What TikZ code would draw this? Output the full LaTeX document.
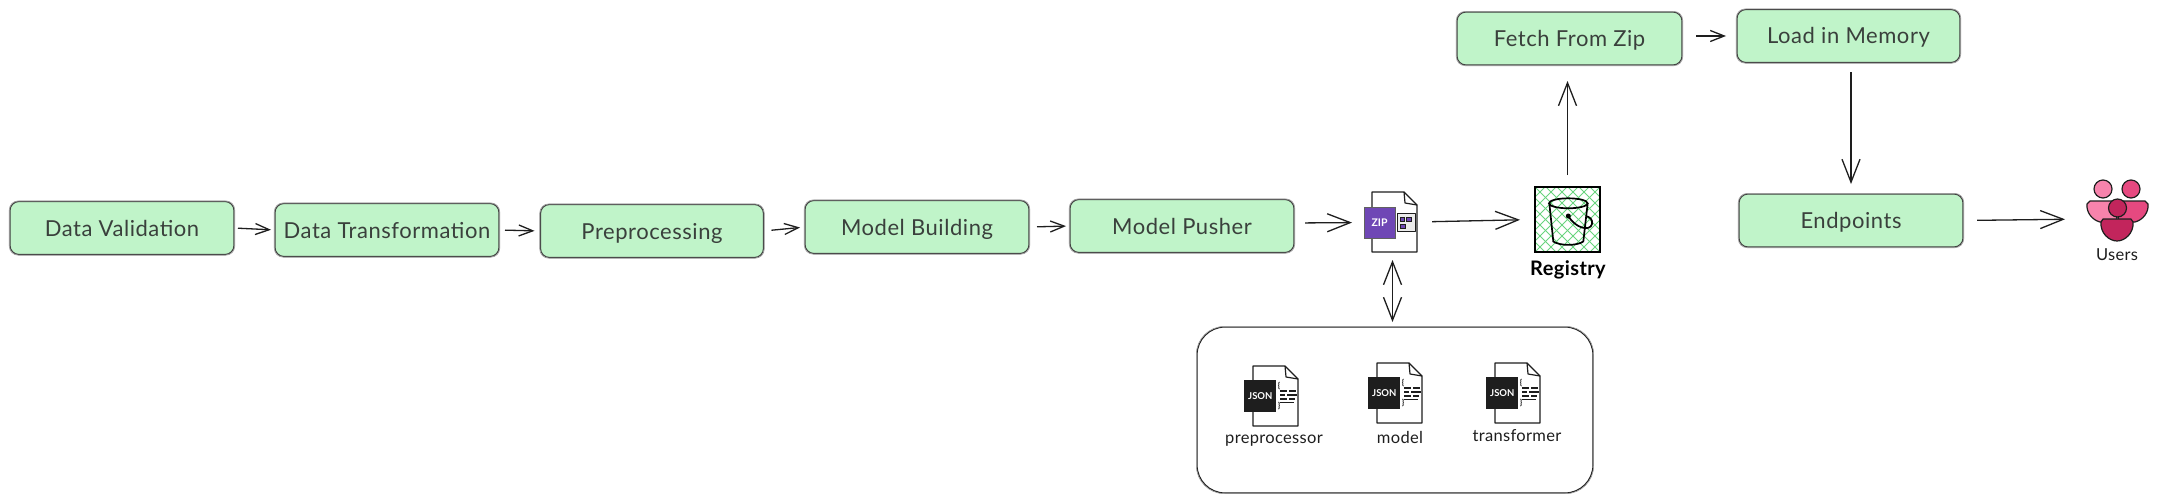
\documentclass[tikz,border=0pt]{standalone}
\usepackage{fontspec}
\setmainfont{Lato}
\usetikzlibrary{arrows.meta,positioning}
\definecolor{boxgreen}{HTML}{C0F4C9}
\definecolor{ink}{HTML}{1E1E1E}
\definecolor{soft}{HTML}{3A403C}
\definecolor{zippurple}{HTML}{6F47B5}
\definecolor{hatch}{HTML}{69D47E}
\definecolor{pinkA}{HTML}{F783AC}
\definecolor{pinkB}{HTML}{E64980}
\definecolor{pinkC}{HTML}{C2255C}
\tikzset{
  x=1pt,y=-1pt,
  stepbox/.style={draw=ink!85,fill=boxgreen,line width=1.1pt,rounded corners=9pt,minimum width=224pt,minimum height=53pt,inner sep=0pt,outer sep=0pt,text=soft,text height=16pt,text depth=0pt,font=\fontsize{22}{24}\selectfont\addfontfeature{LetterSpace=2.5}},
  sketchline/.style={draw=ink!45,line width=.7pt,rounded corners=9pt},
  shortarrow/.style={draw=ink,line width=1.3pt,-{Straight Barb[length=14pt,width=11pt]}},
  longarrow/.style={draw=ink,line width=1.3pt,-{Straight Barb[length=23pt,width=18pt]}},
  bothlong/.style={draw=ink,line width=1.3pt,{Straight Barb[length=23pt,width=18pt]}-{Straight Barb[length=23pt,width=18pt]}},
  iconline/.style={draw=ink,line width=1.2pt,line join=round},
  ghost/.style={inner sep=0pt,outer sep=0pt},
  smalllabel/.style={inner sep=0pt,text=ink,font=\fontsize{16.5}{18}\selectfont\addfontfeature{LetterSpace=2}},
}
\newcommand{\stepnode}[6]{%
  \node[stepbox,minimum width=#4pt,minimum height=#5pt] (#1) at (#2,#3) {#6};
  \draw[sketchline] ([xshift=-.7pt,yshift=.6pt]#1.north west) rectangle ([xshift=.7pt,yshift=-.7pt]#1.south east);
}
\newcommand{\jsonicon}[3]{%
  \begin{scope}[shift={(#2,#3)}]
    \draw[iconline,fill=white] (0,0) -- (32,0) -- (45,13) -- (45,60) -- (0,60) -- cycle;
    \draw[iconline] (32,0) -- (33,11) -- (45,13);
    \node[ghost,fill=ink,minimum width=32pt,minimum height=32pt,text=white,font=\fontsize{9.5}{10}\selectfont\bfseries] (#1) at (7.3,30) {JSON};
    \node[ghost,text=ink,font=\fontsize{8}{9}\selectfont\bfseries] (#1l) at (26,20) {\{};
    \node[ghost,text=ink,font=\fontsize{8}{9}\selectfont\bfseries] (#1r) at (26,40) {\}};
    \draw[ink,line width=1.8pt] (27,25) -- (34,25) (36,25) -- (43,25) (27,29) -- (32,29) (34,29) -- (44,29) (27,33) -- (34,33) (36,33) -- (42,33) (27,36.5) -- (41,36.5);
  \end{scope}
}
\begin{document}
\begin{tikzpicture}
\useasboundingbox (0,0) rectangle (2157,503);
\fill[white] (0,0) rectangle (2157,503);

% process boxes
\stepnode{dv}{122}{228}{224}{53}{Data Validation}
\stepnode{dt}{387}{230}{224}{53}{Data Transformation}
\stepnode{pp}{652}{231}{223}{53}{Preprocessing}
\stepnode{mb}{917}{227}{224}{53}{Model Building}
\stepnode{mp}{1182}{226}{224}{53}{Model Pusher}
\stepnode{fz}{1569.5}{38.5}{225}{53}{Fetch From Zip}
\stepnode{lm}{1848.5}{36}{223}{53}{Load in Memory}
\stepnode{ep}{1851}{220.5}{224}{53}{Endpoints}

% zip file icon
\node[ghost,minimum width=45pt,minimum height=60pt] (zipdoc) at (1394.5,222) {};
\draw[iconline,fill=white] (1372,192) -- (1404,192) -- (1417,205) -- (1417,252) -- (1372,252) -- cycle;
\draw[iconline] (1404,192) -- (1405,203) -- (1417,205);
\node[ghost,draw=ink!70,line width=1pt,fill=zippurple,minimum width=31pt,minimum height=31pt,text=white,font=\fontsize{10.5}{12}\selectfont\bfseries] (zipbox) at (1379.5,222.5) {ZIP};
\draw[iconline,line width=1pt,fill=white!92!black] (1397,213) rectangle (1415,231);
\fill[zippurple,draw=ink,line width=.5pt] (1400,217) rectangle (1404,221.5) (1406.5,217) rectangle (1411.5,221.5) (1400,224.5) rectangle (1405,228.5);

% registry icon
\node[ghost,draw=black,line width=2.4pt,fill=white,minimum size=65pt] (reg) at (1567.5,219.5) {};
\begin{scope}
  \clip (1535,187) rectangle (1600,252);
  \foreach \k in {-66,-55,...,66} {
    \draw[hatch,line width=.9pt] (\k+1535,187) -- (\k+1600,252);
    \draw[hatch,line width=.9pt] (\k+1600,187) -- (\k+1535,252);
  }
\end{scope}
\draw[black,line width=2.4pt] (1535,187) rectangle (1600,252);
\draw[black,line width=1.7pt,fill=none] (1549.3,203) -- (1553.3,241.5) .. controls (1560,246) and (1577,246) .. (1583.3,241.5) -- (1587.7,203);
\draw[black,line width=1.7pt] (1568.3,203.3) ellipse [x radius=19.3,y radius=5];
\fill[black] (1568.3,216) circle [radius=2.5];
\draw[black,line width=1.7pt] (1568.3,216) .. controls (1575,228) and (1590,232) .. (1592,224) .. controls (1593,220) and (1590,217) .. (1586,216);
\node[ghost,text=black,font=\fontsize{20}{22}\selectfont\bfseries\addfontfeature{LetterSpace=2}] (reglabel) at (1568,270) {Registry};

% users icon
\node[ghost,minimum width=61pt,minimum height=44pt] (users) at (2117.5,219) {};
\draw[iconline,fill=pinkA] (2103,189) circle [radius=9];
\draw[iconline,fill=pinkB] (2131,189) circle [radius=9];
\draw[iconline,fill=pinkA] (2090,201) -- (2116,201) -- (2117,222) -- (2100,222) .. controls (2092,220) and (2086,212) .. (2087,204) -- cycle;
\draw[iconline,fill=pinkB] (2119,201) -- (2145,201) -- (2148,204) .. controls (2149,212) and (2143,220) .. (2135,222) -- (2118,222) -- cycle;
\draw[iconline,fill=pinkC] (2117.5,208) circle [radius=9];
\draw[iconline,fill=pinkC] (2103,219) -- (2131,219) -- (2133,222) .. controls (2134,233) and (2125,241) .. (2117,241) .. controls (2109,241) and (2100,233) .. (2101,222) -- cycle;
\node[smalllabel] (userslabel) at (2117,255) {Users};

% bag of json files
\node[ghost,draw=ink,line width=1.2pt,fill=white,rounded corners=28pt,minimum width=396pt,minimum height=166pt] (bag) at (1395,410) {};
\draw[draw=ink!45,line width=.7pt,rounded corners=28pt] (1196.4,326.5) rectangle (1593.6,493.6);
\jsonicon{jone}{1253}{366}
\jsonicon{jtwo}{1377}{363}
\jsonicon{jthree}{1495}{363}
\node[smalllabel] (lone) at (1274,441) {preprocessor};
\node[smalllabel] (ltwo) at (1400,437) {model};
\node[smalllabel] (lthree) at (1517,436) {transformer};

% connectors
\draw[shortarrow,shorten <=4pt,shorten >=4pt] (dv.east) -- (dt.west);
\draw[shortarrow,shorten <=6pt,shorten >=6pt] (dt.east) -- (pp.west);
\draw[shortarrow,shorten <=8pt,shorten >=5pt] (pp.east) -- (mb.west);
\draw[shortarrow,shorten <=8pt,shorten >=4pt] (mb.east) -- (mp.west);
\draw[longarrow,shorten <=11pt,shorten >=12pt] ([yshift=3pt]mp.east) -- (zipbox.west);
\draw[longarrow,shorten <=15pt,shorten >=15pt] (zipdoc.east) -- (reg.west);
\draw[longarrow,shorten <=12pt,shorten >=16pt] (reg.north) -- (reg.north |- fz.south);
\draw[shortarrow,shorten <=14pt,shorten >=11pt] (fz.east |- lm.east) -- (lm.west);
\draw[longarrow,shorten <=10pt,shorten >=10pt] (lm.south -| ep.north) -- (ep.north);
\draw[longarrow,shorten <=14pt,shorten >=22pt] (ep.east) -- (users.west);
\draw[bothlong,shorten <=8pt,shorten >=5pt] ([xshift=-2pt]zipdoc.south) -- ([xshift=-2pt]zipdoc.south |- bag.north);
\end{tikzpicture}
\end{document}
